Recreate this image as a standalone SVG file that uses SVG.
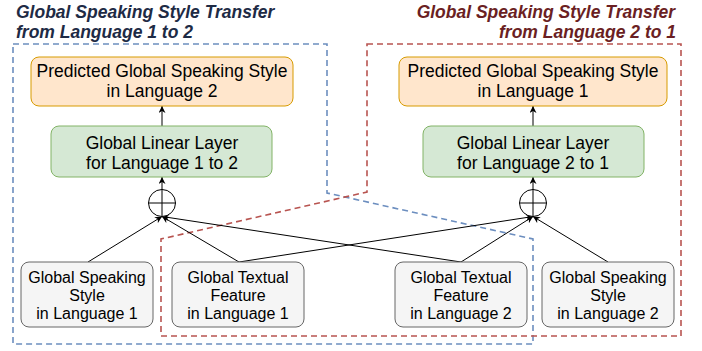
<svg xmlns="http://www.w3.org/2000/svg" width="702" height="351" viewBox="0 0 702 351">
<style>
text{font-family:"Liberation Sans",Arial,Helvetica,sans-serif;font-size:17.5px;fill:#000;text-anchor:middle}
.small{font-size:16px}
.title{font-weight:bold;font-style:italic}
.orange{fill:#ffe6cc;stroke:#d79b00;stroke-width:1}
.green{fill:#d5e8d4;stroke:#82b366;stroke-width:1}
.grey{fill:#f5f5f5;stroke:#666666;stroke-width:1}
.edge{fill:none;stroke:#000;stroke-width:1}
.blue{fill:none;stroke:#6c8ebf;stroke-width:1.6;stroke-dasharray:6 4}
.red{fill:none;stroke:#b85450;stroke-width:1.6;stroke-dasharray:6 4}
.sum{fill:#fff;stroke:#000;stroke-width:1}
</style>
<defs>
<marker id="arr" viewBox="0 0 10 10" refX="10" refY="5" markerWidth="7" markerHeight="7" markerUnits="userSpaceOnUse" orient="auto">
<path d="M0,0 L10,5 L0,10 L3,5 Z" fill="#000"/>
</marker>
</defs>
<rect width="702" height="351" fill="#fff"/>
<g id="regions">
<polygon class="blue" points="13,44 327,44 327,193 533,239 533,344 13,344"/>
<polygon class="red" points="367,44 681,44 681,336 161,336 161,239 367,192"/>
</g>
<g id="titles">
<text class="title" x="16" y="18" style="text-anchor:start;fill:#1e2b45">Global Speaking Style Transfer</text>
<text class="title" x="16" y="37.5" style="text-anchor:start;fill:#1e2b45">from Language 1 to 2</text>
<text class="title" x="675" y="18" style="text-anchor:end;fill:#6b1f23">Global Speaking Style Transfer</text>
<text class="title" x="676" y="37.5" style="text-anchor:end;fill:#6b1f23">from Language 2 to 1</text>
</g>
<g id="connectors">
<line class="edge" x1="162" y1="126" x2="162" y2="106" marker-end="url(#arr)"/>
<line class="edge" x1="533" y1="126" x2="533" y2="106" marker-end="url(#arr)"/>
<line class="edge" x1="162" y1="190" x2="162" y2="177" marker-end="url(#arr)"/>
<line class="edge" x1="533" y1="190" x2="533" y2="177" marker-end="url(#arr)"/>
<line class="edge" x1="88" y1="262" x2="162" y2="216.5" marker-end="url(#arr)"/>
<line class="edge" x1="239" y1="262" x2="162" y2="216.5" marker-end="url(#arr)"/>
<line class="edge" x1="461" y1="262" x2="162" y2="216.5" marker-end="url(#arr)"/>
<line class="edge" x1="239" y1="262" x2="533" y2="216.5" marker-end="url(#arr)"/>
<line class="edge" x1="461" y1="262" x2="533" y2="216.5" marker-end="url(#arr)"/>
<line class="edge" x1="608" y1="262" x2="533" y2="216.5" marker-end="url(#arr)"/>
</g>
<g id="pred2">
<rect class="orange" x="31" y="57" width="262" height="49" rx="8"/>
<text x="162" y="77">Predicted Global Speaking Style</text>
<text x="162" y="97">in Language 2</text>
</g>
<g id="pred1">
<rect class="orange" x="399" y="57" width="268" height="49" rx="8"/>
<text x="533" y="77">Predicted Global Speaking Style</text>
<text x="533" y="97">in Language 1</text>
</g>
<g id="linear12">
<rect class="green" x="51" y="126" width="221" height="51" rx="8"/>
<text x="162" y="149">Global Linear Layer</text>
<text x="162" y="168.5">for Language 1 to 2</text>
</g>
<g id="linear21">
<rect class="green" x="423" y="126" width="221" height="51" rx="8"/>
<text x="533" y="149">Global Linear Layer</text>
<text x="533" y="168.5">for Language 2 to 1</text>
</g>
<g id="sum1">
<circle class="sum" cx="162" cy="203" r="13.5"/>
<path class="edge" d="M148.5,203 H175.5 M162,189.5 V216.5"/>
</g>
<g id="sum2">
<circle class="sum" cx="533" cy="203" r="13.5"/>
<path class="edge" d="M519.5,203 H546.5 M533,189.5 V216.5"/>
</g>
<g id="style1">
<rect class="grey" x="21" y="262" width="132" height="65" rx="8"/>
<text class="small" x="87" y="283">Global Speaking</text>
<text class="small" x="87" y="301">Style</text>
<text class="small" x="87" y="319">in Language 1</text>
</g>
<g id="text1">
<rect class="grey" x="172" y="262" width="132" height="65" rx="8"/>
<text class="small" x="238" y="283">Global Textual</text>
<text class="small" x="238" y="301">Feature</text>
<text class="small" x="238" y="319">in Language 1</text>
</g>
<g id="text2">
<rect class="grey" x="395" y="262" width="132" height="65" rx="8"/>
<text class="small" x="461" y="283">Global Textual</text>
<text class="small" x="461" y="301">Feature</text>
<text class="small" x="461" y="319">in Language 2</text>
</g>
<g id="style2">
<rect class="grey" x="542" y="262" width="132" height="65" rx="8"/>
<text class="small" x="608" y="283">Global Speaking</text>
<text class="small" x="608" y="301">Style</text>
<text class="small" x="608" y="319">in Language 2</text>
</g>
</svg>
